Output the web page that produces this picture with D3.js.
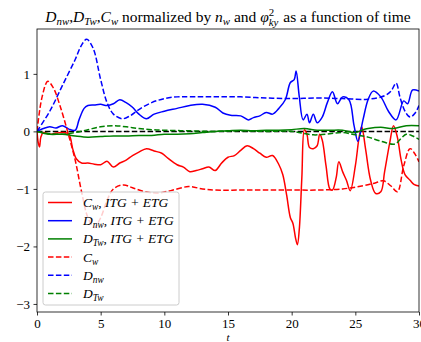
<!DOCTYPE html>
<html>
<head>
<meta charset="utf-8">
<script src="https://cdn.jsdelivr.net/npm/d3@7"></script>
<style>
  html, body { margin: 0; padding: 0; background: #fff; }
  svg { display: block; }
  svg text { font-family: "Liberation Serif", "Times New Roman", "DejaVu Serif", serif !important; }
</style>
</head>
<body>
<svg id="chart" width="421" height="342"></svg>
<script>
// Time traces of the normalized transport coefficients, [t, value]
const cwFull = [[0,0],[0.1,-0.2],[0.2,-0.27],[0.3,-0.1],[0.5,-0.02],[1,-0.05],[1.5,-0.03],[2,-0.02],[2.5,-0.05],[2.8,-0.3],[3.1,-0.48],[3.5,-0.55],[4,-0.55],[4.5,-0.57],[5,-0.58],[5.5,-0.52],[6,-0.62],[6.5,-0.55],[7,-0.5],[7.5,-0.42],[8,-0.36],[8.6,-0.3],[9.2,-0.34],[9.8,-0.38],[10.3,-0.47],[11,-0.58],[11.5,-0.62],[12,-0.7],[12.5,-0.68],[13,-0.65],[13.5,-0.62],[14,-0.68],[14.5,-0.55],[15,-0.45],[15.5,-0.42],[16,-0.33],[16.5,-0.25],[17,-0.3],[17.5,-0.38],[18,-0.45],[18.5,-0.42],[19,-0.58],[19.3,-0.75],[19.6,-1.1],[19.9,-1.5],[20.1,-1.6],[20.3,-1.85],[20.45,-1.97],[20.6,-1.7],[20.8,-0.8],[21,0.03],[21.2,-0.05],[21.4,-0.28],[21.7,-0.3],[22,-0.25],[22.2,-0.05],[22.4,-0.15],[22.7,-0.6],[23,-1.0],[23.2,-1.02],[23.5,-0.8],[23.7,-0.53],[24,-0.7],[24.3,-0.85],[24.6,-1.03],[25,-0.6],[25.3,-0.1],[25.5,0.08],[25.8,-0.3],[26.2,-0.85],[26.6,-1.08],[27,-1.05],[27.3,-0.7],[27.7,-0.2],[28,0.1],[28.3,-0.1],[28.6,-0.5],[28.9,-0.75],[29.3,-0.85],[29.6,-0.92],[30,-0.95]];
const dnwFull = [[0,0],[0.5,0.05],[1,0.08],[1.5,0.06],[2,0.1],[2.5,0.04],[3,0.02],[3.3,0.2],[3.7,0.4],[4,0.45],[4.5,0.46],[5,0.47],[5.5,0.45],[6,0.48],[6.5,0.55],[7,0.5],[7.5,0.42],[8,0.3],[8.6,0.22],[9.2,0.3],[10,0.35],[11,0.4],[12,0.45],[13,0.47],[14,0.42],[14.6,0.32],[15.2,0.28],[16,0.27],[16.6,0.2],[17,0.24],[17.5,0.27],[18,0.33],[18.5,0.3],[19,0.4],[19.5,0.55],[19.9,0.85],[20.2,0.9],[20.35,1.05],[20.6,0.6],[20.9,0.2],[21.2,0.3],[21.4,0.15],[21.7,0.3],[22,0.15],[22.4,0.25],[22.8,0.5],[23.2,0.69],[23.6,0.48],[24,0.6],[24.5,0.55],[24.9,0.1],[25.2,-0.17],[25.6,0.2],[26,0.55],[26.4,0.7],[27,0.6],[27.6,0.35],[28.2,0.2],[28.8,0.53],[29.1,0.48],[29.5,0.72],[30,0.7]];
const dtwFull = [[0,0],[1,-0.05],[2,-0.05],[3,-0.08],[4,-0.1],[5,-0.09],[6,-0.08],[7,-0.08],[8,-0.07],[9,-0.07],[10,-0.05],[11,-0.05],[12,-0.04],[13,-0.02],[14,0],[15,0.01],[16,0.02],[17,0.01],[18,0.02],[19,0.02],[20,0.03],[21,0.05],[22,0.02],[23,0.02],[24,0.02],[25,-0.02],[25.6,0.03],[26,0.05],[27,0.07],[28,0.05],[29,0.1],[30,0.1]];
const cwRef = [[0,0],[0.4,0.6],[0.85,0.87],[1.3,0.75],[1.8,0.45],[2.4,0],[3,-0.5],[3.5,-1.05],[4,-1.5],[4.5,-1.67],[5,-1.5],[5.5,-1.2],[6,-1.0],[6.8,-0.93],[7.5,-0.98],[8.5,-1.05],[9.5,-1.07],[10.5,-1.03],[11.9,-0.96],[13,-1.0],[14,-1.02],[16,-1.02],[18,-1.02],[20,-1.02],[22,-1.02],[24,-1.0],[25.5,-0.95],[26.5,-0.9],[27.2,-0.86],[27.8,-0.95],[28.3,-1.05],[28.8,-0.6],[29.3,-0.3],[29.7,-0.4],[30,-0.53]];
const dnwRef = [[0,0],[1,0.35],[2,0.8],[3,1.25],[3.5,1.5],[3.9,1.6],[4.4,1.45],[5,0.9],[5.5,0.5],[6,0.3],[6.7,0.22],[7.3,0.27],[8,0.38],[9,0.5],[10,0.57],[11,0.6],[12,0.6],[14,0.6],[16,0.6],[18,0.58],[20,0.57],[22,0.58],[24,0.57],[26,0.56],[27.3,0.62],[27.8,0.7],[28.2,0.84],[28.5,0.6],[28.9,0.35],[29.3,0.25],[29.7,0.32],[30,0.45]];
const dtwRef = [[0,0],[1,-0.04],[2,-0.05],[3,-0.02],[4,0.03],[5,0.08],[6,0.1],[7,0.08],[8,0.05],[9,0.03],[10,0.02],[12,0.01],[14,0],[16,0.01],[18,0],[20,0],[21.7,-0.06],[23,-0.04],[24,-0.02],[25,-0.06],[26,-0.1],[27,-0.17],[28.1,-0.22],[28.6,-0.12],[29,-0.05],[29.5,-0.08],[30,-0.14]];
const zeroLevel = [0];

const xTicks = [0, 5, 10, 15, 20, 25, 30];
const yTicks = [-3, -2, -1, 0, 1];

const SERIF = '"Liberation Serif", "Times New Roman", "DejaVu Serif", serif';

const svg = d3.select("#chart");
const margin = { left: 37, right: 2, top: 29, bottom: 30 };
const W = 421, H = 342;

const x = d3.scaleLinear().domain([0, 30]).range([margin.left, W - margin.right]);
const y = d3.scaleLinear().domain([-3.14, 1.78]).range([H - margin.bottom, margin.top]);

// clip to the axes box
svg.append("defs").append("clipPath").attr("id", "plotclip")
  .append("rect")
  .attr("x", x(0)).attr("y", y(1.78))
  .attr("width", x(30) - x(0)).attr("height", y(-3.14) - y(1.78));

const plot = svg.append("g").attr("clip-path", "url(#plotclip)");

const line = d3.line()
  .x(d => x(d[0])).y(d => y(d[1]))
  .curve(d3.curveCatmullRom.alpha(0.5));

const dash = "5.5,2.4";
const styles = [
  { data: cwFull, color: "#ff0000", dash: null },
  { data: dnwFull, color: "#0000ff", dash: null },
  { data: dtwFull, color: "#008000", dash: null },
  { data: cwRef, color: "#ff0000", dash: dash },
  { data: dnwRef, color: "#0000ff", dash: dash },
  { data: dtwRef, color: "#008000", dash: dash }
];

// zero reference
plot.selectAll(".zero").data(zeroLevel).join("line")
  .attr("x1", x(0)).attr("x2", x(30))
  .attr("y1", d => y(d)).attr("y2", d => y(d))
  .attr("stroke", "#000").attr("stroke-width", 1.5).attr("stroke-dasharray", dash);

styles.forEach(s => {
  plot.append("path")
    .datum(s.data)
    .attr("d", line)
    .attr("fill", "none")
    .attr("stroke", s.color)
    .attr("stroke-width", 1.5)
    .attr("stroke-dasharray", s.dash)
    .attr("stroke-linejoin", "round");
});

// axes
const fmt = d => d < 0 ? "\u2212" + Math.abs(d) : String(d);
const xAxis = svg.append("g")
  .attr("transform", `translate(0,${y(-3.14)})`)
  .call(d3.axisBottom(x).tickValues(xTicks).tickFormat(fmt).tickSize(3.5).tickPadding(3.5));
const yAxis = svg.append("g")
  .attr("transform", `translate(${x(0)},0)`)
  .call(d3.axisLeft(y).tickValues(yTicks).tickFormat(fmt).tickSize(3.5).tickPadding(3.5));
[xAxis, yAxis].forEach(a => {
  a.attr("font-family", SERIF).attr("font-size", 13);
  a.select(".domain").remove();
  a.selectAll("line").attr("stroke", "#000").attr("stroke-width", 0.8);
  a.selectAll("text").attr("fill", "#000").attr("font-family", SERIF).attr("font-size", 13);
});

// frame
svg.append("rect")
  .attr("x", x(0)).attr("y", y(1.78))
  .attr("width", x(30) - x(0)).attr("height", y(-3.14) - y(1.78))
  .attr("fill", "none").attr("stroke", "#000").attr("stroke-width", 0.8);

// x label
svg.append("text")
  .attr("x", (x(0) + x(30)) / 2).attr("y", 341)
  .attr("text-anchor", "middle").attr("font-size", 11).attr("font-style", "italic")
  .attr("font-family", SERIF)
  .text("t");

// rich text helper: pieces are {t, it, sub, sup, stack:[sup, sub]}
function richText(g, pieces, size) {
  let cx = 0;
  const measure = (el) => el.node().getComputedTextLength();
  g.attr("font-family", SERIF);
  pieces.forEach(p => {
    if (p.stack) {
      const sp = g.append("text").attr("x", cx).attr("y", -size * 0.42)
        .attr("font-family", SERIF)
        .attr("font-size", size * 0.7).attr("font-style", "normal").text(p.stack[0]);
      const sb = g.append("text").attr("x", cx).attr("y", size * 0.28)
        .attr("font-family", SERIF)
        .attr("font-size", size * 0.7).attr("font-style", "italic").text(p.stack[1]);
      cx += Math.max(measure(sp), measure(sb)) + 1;
      return;
    }
    const small = p.sub || p.sup;
    const el = g.append("text")
      .attr("x", cx)
      .attr("y", p.sub ? size * 0.22 : (p.sup ? -size * 0.4 : 0))
      .attr("font-family", SERIF)
      .attr("font-size", small ? size * 0.7 : size)
      .attr("font-style", p.it ? "italic" : "normal")
      .attr("xml:space", "preserve")
      .style("white-space", "pre")
      .text(p.t);
    cx += measure(el) + (p.gap || 0);
  });
  return cx;
}

// title
const titleG = svg.append("g");
const titleW = richText(titleG, [
  { t: "D", it: true }, { t: "nw", it: true, sub: true }, { t: ",", gap: 0 },
  { t: "D", it: true }, { t: "Tw", it: true, sub: true }, { t: "," },
  { t: "C", it: true }, { t: "w", it: true, sub: true },
  { t: " normalized by " }, { t: "n", it: true }, { t: "w", it: true, sub: true },
  { t: " and " }, { t: "\u03C6", it: true }, { stack: ["2", "ky"] },
  { t: " as a function of time" }
], 15.5);
titleG.attr("transform", `translate(${(x(0) + x(30)) / 2 - titleW / 2}, 22)`);

// legend
const legendLabels = [
  [{ t: "C", it: true }, { t: "w", it: true, sub: true }, { t: ", " }, { t: "ITG + ETG", it: true }],
  [{ t: "D", it: true }, { t: "nw", it: true, sub: true }, { t: ", " }, { t: "ITG + ETG", it: true }],
  [{ t: "D", it: true }, { t: "Tw", it: true, sub: true }, { t: ", " }, { t: "ITG + ETG", it: true }],
  [{ t: "C", it: true }, { t: "w", it: true, sub: true }],
  [{ t: "D", it: true }, { t: "nw", it: true, sub: true }],
  [{ t: "D", it: true }, { t: "Tw", it: true, sub: true }]
];
const legend = svg.append("g").attr("transform", "translate(43,192)");
legend.append("rect")
  .attr("width", 136).attr("height", 113).attr("rx", 2.5)
  .attr("fill", "#fff").attr("fill-opacity", 0.8)
  .attr("stroke", "#cccccc").attr("stroke-width", 1);
const rowY = d3.scaleLinear().domain([0, 5]).range([10.5, 101.5]);
styles.forEach((s, i) => {
  const gy = rowY(i);
  legend.append("line")
    .attr("x1", 5).attr("x2", 29).attr("y1", gy).attr("y2", gy)
    .attr("stroke", s.color).attr("stroke-width", 1.5).attr("stroke-dasharray", s.dash);
  const tg = legend.append("g").attr("transform", `translate(40,${gy + 4.5})`);
  richText(tg, legendLabels[i], 13.5);
});
</script>
</body>
</html>
